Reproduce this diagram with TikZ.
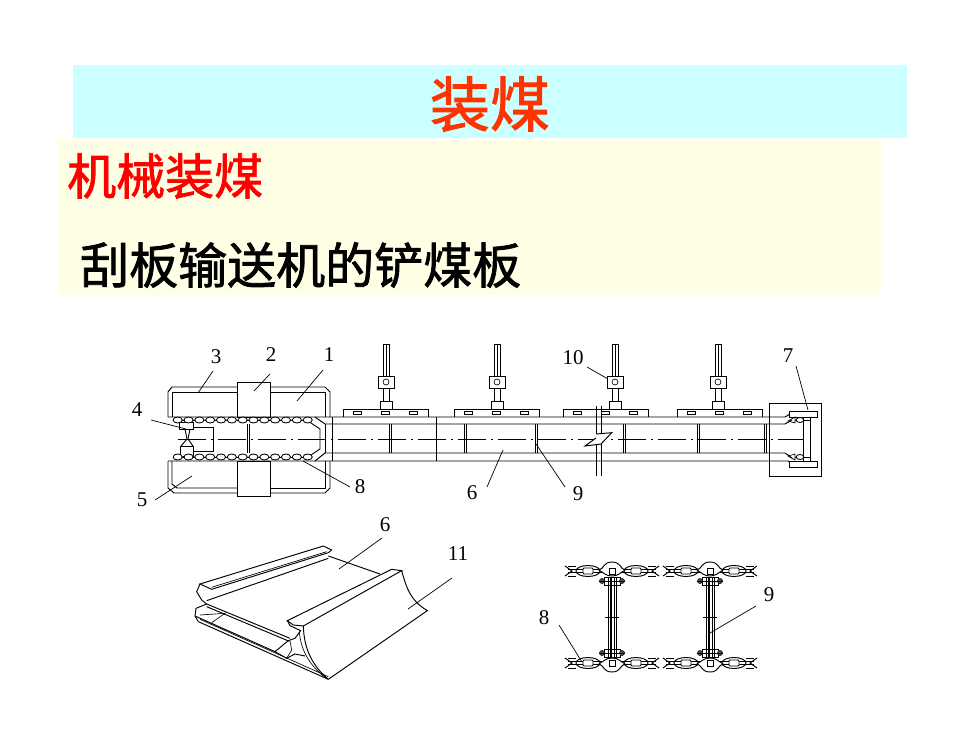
\documentclass[tikz,border=0pt]{standalone}
\usepackage{fontspec}
\setmainfont{Liberation Serif}
\newfontfamily\cjk[FakeBold=1.6]{Noto Sans CJK SC}
\usetikzlibrary{calc}
\definecolor{CTitleBar}{HTML}{CCFFFF}
\definecolor{CBodyBar}{HTML}{FFFFE5}
\definecolor{CTitle}{HTML}{FF3300}
\definecolor{CHead}{HTML}{FF0000}

% number with its leader line
\newcommand{\callout}[5]{%
    \node[num label] (num#1) at (#3) {#2};
    \coordinate (num#1 from) at (#4);
    \coordinate (num#1 to) at (#5);
    \draw[leader] (num#1 from) -- (num#1 to);
}

\begin{document}
\begin{tikzpicture}[
    x=1pt, y=-1pt,
    % Reusable styles for consistent strokes
    part/.style={draw=black, line width=0.95pt},
    thin part/.style={draw=black, line width=0.65pt},
    pearl/.style={draw=black, fill=white, line width=0.85pt},
    center line/.style={draw=black, line width=0.7pt, dash pattern=on 28pt off 5pt on 2pt off 5pt},
    leader/.style={draw=black, line width=0.7pt},
    num label/.style={font=\fontsize{21}{21}\selectfont, inner sep=0pt},
    big text/.style={font=\cjk\fontsize{#1}{#1}\selectfont, inner sep=0pt}
]
    \useasboundingbox (0,0) rectangle (980,735);
    \fill[white] (0,0) rectangle (980,735);

    % Heading bars and text
    \fill[CTitleBar] (73,65) rectangle (907,138);
    \fill[CBodyBar] (58,139) rectangle (881,295);
    \node[big text=60, text=CTitle] (title) at (490,104) {装煤};
    \node[big text=49, text=CHead, anchor=west] (head) at (67,176) {机械装煤};
    \node[big text=49, text=black, anchor=west] (sub) at (80,265) {刮板输送机的铲煤板};

    % -------------------------
    % Top: conveyor plan view
    % -------------------------
    % Upper trough
    \draw[part] (168,417) -- (168,392) -- (172,387) -- (237,387);
    \draw[part] (172,417) -- (172,392) -- (237,392);
    \draw[part] (270,387) -- (325,387) -- (330,392) -- (330,417);
    \draw[part] (270,392) -- (325,392) -- (325,417);
    \draw[part] (237,382) rectangle (270,417);
    % Lower trough
    \draw[part] (168,461) -- (168,488) -- (174,493) -- (237,493);
    \draw[part] (172,461) -- (172,484) -- (177,488) -- (237,488);
    \draw[part] (270,493) -- (325,493) -- (330,488) -- (330,461);
    \draw[part] (270,488) -- (325,488) -- (325,461);
    \draw[part] (237,461) rectangle (270,496);

    % Long rails
    \draw[part] (168,417) -- (785,417) -- (792,413);
    \draw[part] (315,417) -- (325,424) -- (785,424) -- (792,420);
    \draw[part] (168,461) -- (788,461) -- (794,464);
    \draw[part] (315,461) -- (325,453) -- (785,453) -- (792,458);
    \draw[part] (308,421) -- (320,429) -- (320,449) -- (308,457);
    \draw[part] (325,424) -- (325,453);
    \draw[part] (332,417) -- (332,461);
    \draw[part] (436,417) -- (436,461);

    % Scraper bars (double lines)
    \foreach \x in {247,389,464,535,623,697,764} {
        \draw[thin part] (\x,424) -- (\x,453);
        \draw[thin part] (\x+2,424) -- (\x+2,453);
    }
    \draw[center line] (178,439) -- (803,439);

    % Tail sprocket and guide block
    \draw[part] (193,427) -| (213,451) -- (193,451);
    \draw[part, fill=white] (179,422) rectangle (193,429);
    \draw[part, fill=white] (180,446) rectangle (193,456);
    \draw[part] (185,429) -- (187,439) -- (181,446);
    \draw[part] (190,429) -- (188,439) -- (193,446);

    % Chain strands
    \foreach \y in {420,457} {
        \draw[part] (178,\y) -- (308,\y);
        \foreach \i in {0,...,12}
            \draw[pearl] (177.7+10.83*\i,\y) ellipse (4.6 and 3);
    }

    % Plow plates, each with a rod assembly
    \foreach \a/\b/\r in {343/428/386, 454/539/497, 563/648/615, 677/762/718} {
        \draw[part] (\a,417) -- (\a,409) -- (\b,409) -- (\b,417);
        \foreach \t in {-28,0,28}
            \draw[thin part] ($(\a,412.5)!0.5!(\b,412.5)+(\t-4,-1.5)$) rectangle ++(8,3);
        \begin{scope}[shift={(\r,0)}]
            \draw[thin part] (-3,376) -- (-3,344) -- (3,344) -- (3,376);
            \draw[thin part] (0,344) -- (0,376);
            \draw[part] (-8,376) rectangle (8,388);
            \draw[thin part] (0,382) circle (3);
            \draw[thin part] (-3,388) -- (-3,401);
            \draw[thin part] (3,388) -- (3,401);
            \draw[part] (-6,409) -- (-6,401) -- (6,401) -- (6,409);
        \end{scope}
    }

    % Break mark
    \draw[part] (596,406) -- (596,434);
    \draw[part] (601,406) -- (601,434);
    \draw[part] (596,444) -- (596,476);
    \draw[part] (601,444) -- (601,476);
    \draw[part, fill=white] (596,434) -- (611.7,432.7) -- (601,444) -- (585,446) -- (596,438);

    % Head end
    \draw[thin part] (769,403) rectangle (821,476);
    \draw[part, fill=white] (789,411) rectangle (817,417);
    \draw[part, fill=white] (789,461) rectangle (817,467);
    \draw[part] (803,417) -- (803,461);
    \draw[part] (810,417) -- (810,461);
    \foreach \y/\s in {420/1, 457/-1} {
        \draw[thin part] (788,\y+1*\s) -- (795,\y-3*\s) -- (795,\y+3*\s) -- cycle;
        \draw[thin part] (795,\y) -- (811,\y);
        \draw[pearl] (800,\y) ellipse (3.8 and 2.5);
    }

    % Numbers of the plan view
    \callout{3}{3}{216,357}{213,371}{198,393}
    \callout{2}{2}{271,355}{270,374}{254,391}
    \callout{1}{1}{329,355}{323,370}{297,401}
    \callout{4}{4}{137,410}{151,420}{186,429}
    \callout{5}{5}{142,500}{155,500}{192,476}
    \callout{8}{8}{360,487}{350,487}{303,461}
    \callout{6}{6}{472,493}{487,487}{503,450}
    \callout{9}{9}{578,494}{565,487}{536,444}
    \callout{10}{10}{573,358}{587,367}{608,379}
    \callout{7}{7}{788,356}{796,366}{808,410}

    % -------------------------
    % Lower left: plow plate view
    % -------------------------
    \begin{scope}[shift={(180,510)}, x=0.3333pt, y=-0.3333pt]
        % back rail
        \draw[part] (60,222) -- (430,108) -- (455,120) -- (445,128) -- (95,238) -- cycle;
        \draw[thin part] (95,232) -- (440,125);
        \draw[part] (80,272) -- (445,145);
        \draw[part] (445,138) -- (600,192);
        % left profile
        \draw[part] (60,222) -- (50,245) -- (65,270) -- (80,282) -- (48,295) -- (45,318) -- (55,335);
        % front of the deck and its underside
        \draw[part] (80,282) -- (330,385);
        \draw[part] (80,290) -- (328,394);
        \draw[part] (45,318) -- (285,425);
        \draw[part] (55,335) -- (445,508);
        \draw[thin part] (60,328) -- (445,500);
        \draw[thin part] (60,315) -- (135,310) -- (95,338);
        % near rail
        \draw[part] (322,332) -- (635,178) -- (665,182) -- (370,348) -- (340,345) -- cycle;
        \draw[part] (665,182) .. controls (680,235) and (690,270) .. (742,302) -- (445,508);
        \draw[part] (370,348) .. controls (372,420) and (400,470) .. (445,508);
        \draw[thin part] (358,365) .. controls (362,420) and (390,470) .. (440,505);
        % near profile
        \draw[part] (322,332) -- (330,347) -- (362,362) -- (345,385) -- (325,392) -- (285,425) -- (320,445) -- (345,432) -- (375,438);
        \draw[thin part] (330,392) -- (335,420) -- (320,445);
    \end{scope}
    \callout{6b}{6}{385,525}{382,538}{339,569}
    \callout{11}{11}{458,554}{452,578}{408,609}

    % -------------------------
    % Lower right: chains and scrapers
    % -------------------------
    \foreach \y/\d in {571/-1,663/1}
        \foreach \h in {612,710} {
            \begin{scope}[shift={(\h,\y)}]
                % wide links
                \foreach \t in {-24,24}
                    \draw[part] (\t,0) ellipse (12 and 5.5);
                \draw[part] (-44,-1.5) -- (44,-1.5);
                \draw[part] (-44,1.5) -- (44,1.5);
                \foreach \t in {-24,24}
                    \draw[part, fill=white, rounded corners=1pt] (\t-5,-3) rectangle (\t+5,3);
                % hub
                \draw[part, fill=white] (-13,\d*1) .. controls (-8,\d*2) and (-9,\d*9) .. (0,\d*9) .. controls (9,\d*9) and (8,\d*2) .. (13,\d*1) .. controls (8,-\d*2) and (6,-\d*5) .. (0,-\d*5) .. controls (-6,-\d*5) and (-8,-\d*2) .. (-13,\d*1) -- cycle;
                \draw[thin part] (-3,-3) rectangle (3,3);
                % forked ends
                \foreach \s in {-1,1} {
                    \draw[part] (\s*47,-5) -- (\s*40,0) -- (\s*47,5);
                    \draw[part] (\s*36,-5) -- (\s*44,-5);
                    \draw[part] (\s*36,5) -- (\s*44,5);
                }
            \end{scope}
        }
    \foreach \h in {612,710} {
        \begin{scope}[shift={(\h,0)}]
            % scraper web
            \foreach \t in {-4,-2,2,4}
                \draw[thin part] (\t,577) -- (\t,658);
            \draw[part] (-0.5,577) -- (-0.5,658);
            \draw[thin part] (-7,617) -- (7,617);
            % bolts
            \foreach \y in {581,653} {
                \draw[thin part] (-8,\y-4) -- (8,\y-4) -- (8,\y+4) -- (-8,\y+4) -- cycle;
                \fill[black!70, draw=black] (-10,\y) circle (2.6);
                \fill[black!70, draw=black] (10,\y) circle (2.6);
                \draw[thin part] (-13,\y) -- (13,\y);
            }
        \end{scope}
    }
    \callout{9b}{9}{769,595}{756,606}{710,633}
    \callout{8b}{8}{544,618}{559,625}{582,662}

\end{tikzpicture}
\end{document}
